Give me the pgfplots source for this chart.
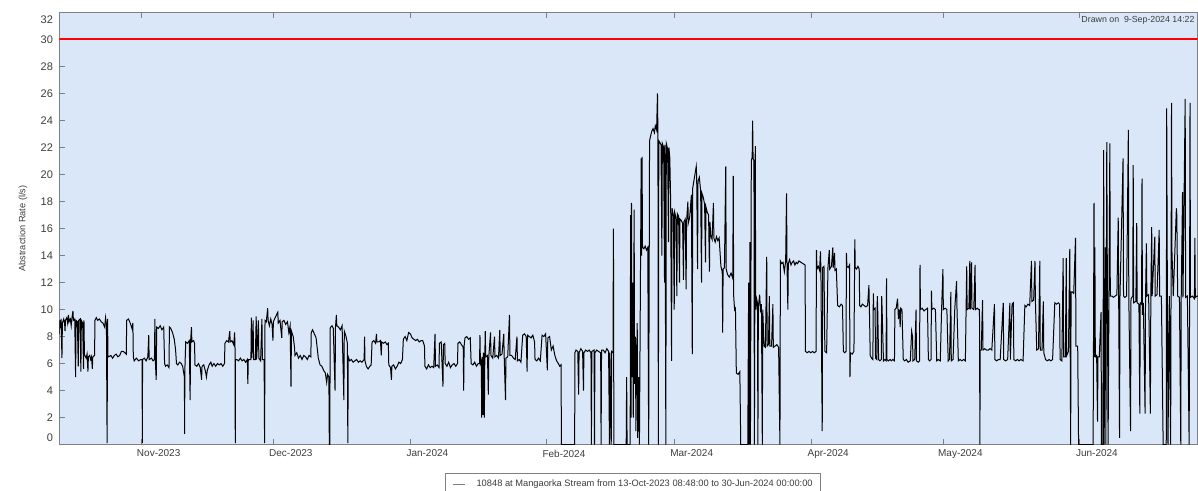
\documentclass[border=0pt]{standalone}
\usepackage{fontspec}
\setmainfont{Liberation Sans}
\usepackage{pgfplots}
\pgfplotsset{compat=1.18}
\definecolor{bgblue}{RGB}{217,231,248}
\definecolor{axgray}{RGB}{128,128,128}
\definecolor{txtgray}{RGB}{60,60,60}
\begin{document}
\begin{tikzpicture}
\path[use as bounding box] (-29.65pt,-22.75pt) rectangle (569.25pt,222.25pt);
\begin{axis}[
 at={(0,0)}, anchor=south west,
 width=569pt, height=216pt, scale only axis,
 xmin=0.3, xmax=258.7, ymin=0, ymax=32,
 axis background/.style={fill=bgblue},
 axis line style={axgray, line width=0.6pt},
 tick align=inside, major tick length=3pt,
 tick style={axgray, line width=0.5pt},
 xtick pos=both, ytick pos=left,
 xtick={19,49,80,111,140,171,201,232},
 xticklabels={Nov-2023,Dec-2023,Jan-2024,Feb-2024,Mar-2024,Apr-2024,May-2024,Jun-2024},
 xticklabel style={font=\fontsize{5}{6}\selectfont, text=txtgray, anchor=north, inner sep=0pt, xshift=8.5pt, yshift=-2.5pt},
 ytick={2,4,...,30},
 extra y ticks={0},
 extra y tick style={yticklabel style={yshift=3.4pt}},
 yticklabel style={font=\fontsize{5.5}{6.5}\selectfont, text=txtgray, anchor=east, inner sep=0pt, xshift=-3pt},
 /pgf/number format/assume math mode=true,
 ylabel={Abstraction Rate (l/s)},
 ylabel style={at={(axis description cs:-0.0319,0.5)}, anchor=center, font=\fontsize{4.6}{5.5}\selectfont, text=txtgray},
 legend style={at={(axis description cs:0.339,-0.066)}, anchor=north west, draw=axgray, fill=white, font=\fontsize{4.65}{5.5}\selectfont, text=txtgray, inner xsep=2pt, inner ysep=1pt},
 legend image code/.code={\path[draw=none] (0pt,0pt) -- (11.5pt,0pt); \draw[gray,line width=0.6pt] (1.5pt,0pt) -- (7.5pt,0pt);},
 legend cell align=left,
]
\addplot[red, line width=1pt, forget plot] coordinates {(0.3,30) (258.7,30)};
\addplot[black, line width=0.5pt] coordinates {
(0.3,8.2)(0.4,9.2)(0.6,8.8)(0.7,9.3)(0.9,6.4)(1.0,9.0)(1.3,9.3)(1.5,9.0)(1.6,8.4)(1.7,9.2)(2.0,9.4)(2.2,9.0)(2.4,9.6)(2.5,9.1)(2.8,9.3)(3.0,8.8)(3.1,9.2)(3.4,9.9)(3.5,9.2)(3.8,9.3)(4.0,5.0)(4.1,9.2)(4.4,9.1)(4.6,5.8)(4.7,9.2)(5.0,9.3)(5.2,5.4)(5.3,9.2)(5.6,9.0)(5.8,5.6)(5.9,9.2)(6.0,6.7)
(6.1,6.6)(6.4,6.4)(6.6,6.7)(6.8,5.4)(6.9,6.5)(7.2,6.6)(7.4,6.3)(7.6,6.5)(7.8,5.6)(7.9,6.5)(8.3,6.6)
(8.4,9.2)(8.7,9.4)(9.0,9.2)(9.4,9.3)(9.8,9.1)(10.2,9.0)(10.6,8.7)(10.8,9.4)(11.0,8.9)(11.15,0.1)(11.25,9.3)(11.35,6.6)
(11.5,6.5)(12,6.6)(12.4,6.4)(12.8,6.6)(13.2,6.7)(13.6,6.5)(14.0,6.6)(14.4,6.9)(14.8,6.9)(15.2,6.8)(15.5,6.7)
(15.6,9.2)(16.0,9.3)(16.4,9.0)(16.8,8.6)(17.0,9.0)(17.1,6.5)
(17.3,6.2)(17.8,6.4)(18.3,6.2)(18.8,6.3)(19.1,6.3)(19.15,0.1)(19.2,6.3)(19.6,6.4)(20.0,6.2)(20.4,6.5)(20.6,8.1)(20.7,6.3)(21.2,6.4)(21.6,6.2)(21.9,6.3)
(22.0,9.3)(22.1,6.2)(22.3,4.8)(22.4,8.7)(22.8,8.6)(23.2,8.8)(23.6,8.5)(24.0,8.7)(24.2,6.0)(24.4,5.8)(24.8,5.9)(25.2,5.7)(25.3,8.7)(25.6,8.6)(26.0,8.3)(26.4,7.8)(26.7,7.0)(26.9,6.0)(27.2,5.9)(27.6,6.1)(28.0,6.0)(28.3,5.8)
(28.7,5.0)(28.75,0.8)(28.8,5.5)(29.0,7.6)(29.4,7.5)(29.8,7.7)(30.0,3.3)(30.1,7.6)(30.3,8.7)(30.4,7.6)(30.8,7.7)(31.0,7.5)
(31.1,5.9)(31.5,5.8)(31.9,6.0)(32.3,5.7)(32.6,4.8)(32.7,5.8)(33.1,5.9)(33.5,5.4)(33.7,5.0)(33.9,5.5)(34.3,5.9)(34.7,6.1)(35.0,5.8)(35.4,6.0)(35.8,5.8)(36.2,6.0)(36.6,5.9)(37.0,6.0)(37.4,5.8)(37.8,6.0)
(37.9,7.5)(38.3,7.7)(38.7,7.6)(39.0,8.4)(39.1,7.6)(39.5,7.7)(39.9,7.4)(40.1,8.3)(40.2,7.0)(40.25,0.1)(40.3,6.3)
(40.6,6.3)(41.0,6.2)(41.4,6.4)(41.8,6.2)(42.2,6.3)(42.6,6.1)(43.0,6.3)(43.1,4.5)(43.2,6.3)
(43.8,6.3)(43.9,9.4)(44.0,6.4)(44.3,9.2)(44.4,6.3)(44.8,6.3)(45.0,9.5)(45.1,6.3)(45.5,9.2)(45.6,6.4)(46.0,6.2)(46.3,9.3)(46.4,6.3)(46.8,6.3)(46.9,0.1)(47.0,9.2)
(47.3,9.1)(47.6,10.1)(47.7,9.2)(48.0,8.8)(48.3,9.3)(48.6,8.9)(48.8,7.7)(48.9,9.1)(49.3,9.4)(49.9,9.8)(50.0,9.0)(50.4,9.2)(50.8,7.9)(50.9,9.1)(51.3,9.2)(51.7,8.9)(52.1,9.1)(52.4,8.3)(52.7,8.8)(52.9,4.3)(53.0,8.4)(53.4,8.0)(53.7,7.2)
(53.8,6.6)(54.2,6.8)(54.6,6.4)(55.0,6.6)(55.4,6.3)(55.8,6.6)(56.2,6.5)(56.6,6.3)(57.0,6.6)(57.4,6.5)
(57.5,8.3)(57.8,8.5)(58.2,8.2)(58.6,7.9)(58.9,7.0)
(59.1,6.4)(59.5,5.9)(59.9,5.8)(60.3,5.5)(60.7,5.3)(61.0,4.6)(61.2,5.2)(61.5,5.0)(61.6,0.0)(61.7,0.0)(61.8,8.6)
(61.9,8.7)(62.2,8.8)(62.5,8.6)(62.9,4.0)(63.0,8.7)(63.2,9.6)(63.3,8.8)(63.7,8.7)(64.1,8.5)(64.5,8.8)(64.9,3.3)(65.0,8.4)(65.4,8.0)(65.7,7.5)(65.8,0.1)(65.9,6.5)
(66.2,6.2)(66.6,6.3)(67.0,6.1)(67.4,6.2)(67.8,6.3)(68.2,6.1)(68.6,6.2)(69.0,6.1)(69.5,6.3)(69.6,8.0)(69.7,6.2)
(70.0,5.8)(70.4,5.6)(70.8,5.8)(71.1,5.9)
(71.3,7.6)(71.7,7.7)(72.1,7.5)(72.3,8.2)(72.4,7.6)(72.8,7.6)(73.2,7.7)(73.4,6.6)(73.5,7.6)(73.9,7.5)(74.3,7.6)(74.7,7.4)(75.0,7.5)
(75.1,5.9)(75.5,5.7)(75.7,4.8)(75.8,5.8)(76.2,5.9)(76.6,5.6)(77.0,5.8)(77.4,6.1)(77.8,6.0)(78.2,6.3)
(78.4,7.8)(78.8,8.0)(79.2,7.7)(79.6,8.3)(80.0,8.2)(80.4,7.9)(80.8,7.8)(81.2,7.7)(81.6,7.8)(82.0,7.6)(82.4,7.7)(82.8,7.7)(83.2,7.3)
(83.3,5.8)(83.7,5.6)(84.1,5.9)(84.5,5.7)(84.9,5.8)(85.3,5.7)(85.6,8.2)(85.7,5.8)(86.1,5.9)(86.5,5.7)
(86.6,7.5)(87.0,7.6)(87.4,4.3)(87.5,7.4)(87.8,7.5)
(87.9,6.0)(88.3,5.8)(88.7,6.1)(89.1,5.7)(89.5,5.9)(89.9,6.0)(90.3,5.8)(90.7,6.0)
(90.8,7.5)(91.2,7.6)(91.6,7.4)(92.0,7.2)(92.1,4.0)(92.2,7.3)
(92.4,7.9)(92.8,8.0)(93.2,7.8)(93.6,7.9)
(93.8,6.0)(94.2,5.9)(94.6,6.1)(95.0,5.8)(95.4,6.0)(95.7,6.0)
(95.8,8.1)(95.9,6.0)(96.1,6.2)(96.2,2.0)(96.3,6.5)(96.5,2.2)(96.6,6.8)(96.8,2.0)(96.9,6.6)
(97.0,8.4)(97.1,6.5)(97.5,6.6)(97.7,3.7)(97.8,6.5)(98.2,8.3)(98.3,6.6)(98.7,6.4)(99.1,8.0)(99.2,6.5)(99.6,6.6)(100.0,6.4)(100.3,8.5)(100.4,6.6)(100.8,6.7)(101.2,8.2)(101.3,6.5)(101.6,3.3)(101.7,6.4)
(102.1,6.5)(102.5,9.6)(102.6,6.6)
(103.0,6.6)(103.4,6.4)(103.8,6.3)(104.2,8.0)(104.3,6.2)(104.7,6.3)(105.1,6.1)
(105.5,8.1)(105.9,8.2)(106.3,8.0)(106.5,5.4)(106.6,8.1)(107.0,8.0)(107.4,7.9)(107.8,8.1)(108.2,7.6)
(108.3,6.3)(108.7,6.2)(109.1,6.4)(109.5,6.2)
(109.9,8.1)(110.3,8.0)(110.7,8.2)(111.1,5.5)(111.2,7.9)(111.6,8.0)
(112.0,7.0)(112.4,7.3)(112.8,6.6)(113.2,6.2)(113.6,6.0)(113.9,5.8)
(114.2,5.9)(114.3,0)(117.2,0)
(117.3,0)(117.35,6.8)(117.6,7.0)(118.0,6.9)(118.2,3.7)(118.3,6.8)(118.7,7.1)(119.1,6.9)(119.3,4.0)(119.4,6.8)(119.8,7.0)(120.2,6.9)(120.6,7.0)(121.0,6.8)(121.1,0)(121.2,6.9)(121.7,7.0)(121.8,0)(121.9,6.8)(122.3,7.0)(122.7,6.9)(123.2,6.8)(123.3,0)(123.4,7.0)(123.8,7.0)(124.2,6.8)(124.6,7.1)(125.0,6.9)(125.2,0)(125.3,6.8)(125.6,0)(125.7,6.9)(126.0,6.8)
(126.1,16.0)(126.2,0)(129.0,0)(129.1,5.0)(129.2,0)
(129.9,0)(130.0,17.0)(130.1,2.0)(130.2,17.9)(130.3,5.0)(130.5,12.0)(130.6,2.0)(130.8,17.4)(130.9,4.5)(131.1,8.0)(131.2,1.0)(131.3,4.6)(131.5,9.0)(131.6,0.5)(131.8,5.0)
(132.0,0)(132.4,21.2)(132.5,14.0)(132.6,21.3)(132.7,14.6)
(133.0,14.5)(133.3,14.7)(133.6,14.4)(133.9,14.6)(134.1,0)(134.3,22.5)
(134.5,22.8)(134.8,23.2)(135.1,23.4)(135.4,23.1)(135.6,23.6)(135.9,23.3)(136.1,26.0)(136.2,23.0)(136.3,0)(136.4,22.5)
(136.6,22.4)(136.9,22.2)(137.1,14.0)(137.2,22.3)(137.5,22.0)(137.7,12.0)(137.8,22.2)(138.0,0)(138.1,22.3)(138.4,21.9)(138.6,15.0)(138.7,22.0)(138.9,21.2)
(139.1,17.8)(139.3,6.2)(139.4,17.5)(139.7,17.0)(139.9,10.0)(140.0,17.2)(140.3,16.8)(140.5,11.0)(140.6,17.1)(140.9,16.9)(141.1,12.0)(141.2,16.7)
(141.5,16.6)(141.8,16.4)(142.0,12.2)(142.1,16.5)(142.4,16.7)(142.6,11.5)(142.7,16.5)(143.0,18.0)(143.1,16.4)(143.4,16.8)
(143.8,18.5)(144.0,6.7)(144.1,19.0)(144.4,19.6)(144.7,20.2)(144.9,20.6)(145.0,19.8)(145.2,13.0)(145.3,19.5)(145.6,19.8)
(145.9,18.8)(146.1,12.0)(146.2,18.6)(146.5,18.3)(146.8,17.8)(147.0,13.5)(147.1,17.6)(147.4,17.2)(147.7,17.0)(147.9,12.8)(148.0,16.5)
(148.2,15.5)(148.5,15.2)(148.8,17.9)(148.9,15.3)(149.2,15.0)(149.5,15.4)(149.8,15.1)(150.1,15.3)
(150.5,13.2)(150.8,12.8)(150.9,8.3)(151.0,13.0)(151.3,13.1)(151.6,20.6)(151.7,13.0)
(152.0,12.6)(152.4,12.4)(152.8,12.7)(153.2,12.3)(153.3,19.9)(153.4,11.0)(153.6,10.0)(153.8,10.1)
(154.0,5.3)(154.4,5.2)(154.8,5.4)(155.0,0)(156.6,0)
(156.8,12.0)(156.9,0)(157.1,15.0)(157.2,0)(157.4,21.0)(157.6,21.3)(157.7,24.0)(157.8,21.2)(158.0,21.0)(158.1,0)(158.3,22.1)(158.4,10.0)
(158.6,10.8)(158.8,10.5)(158.9,0)(159.0,10.2)(159.3,11.1)(159.5,9.8)(159.7,10.4)(159.9,0)(160.0,10.0)
(160.3,7.3)(160.6,7.2)(160.9,13.9)(161.0,7.3)(161.3,7.4)(161.5,11.0)(161.6,7.3)
(162.0,7.3)(162.3,10.4)(162.4,7.2)(162.8,7.3)(163.2,7.4)(163.6,7.2)(163.9,0)(164.0,13.6)
(164.3,13.4)(164.6,13.5)(164.9,12.8)(165.2,13.6)(165.4,18.6)(165.5,13.5)(165.7,10.0)(165.8,13.4)(166.1,13.7)(166.4,13.3)(166.7,13.5)(167.0,13.6)(167.3,13.3)(167.6,13.5)(167.9,13.4)(168.2,13.6)
(169.6,13.3)(169.7,6.9)(170.1,6.8)(170.5,6.9)(170.9,6.8)(171.3,6.9)(171.7,6.8)(172.1,6.9)
(172.2,14.4)(172.3,13.0)(172.6,13.2)(172.9,12.9)(173.1,14.3)(173.2,13.0)(173.5,1.0)(173.6,13.1)(173.9,13.2)(174.1,6.9)(174.5,6.8)
(174.8,13.1)(175.1,14.4)(175.2,13.0)(175.6,13.2)(175.9,14.6)(176.0,13.1)(176.3,14.2)(176.4,12.9)(176.7,13.0)
(177.0,10.3)(177.4,10.2)(177.8,10.4)(178.1,10.3)(178.3,6.9)(178.6,6.8)(178.9,6.9)
(179.0,14.2)(179.1,13.2)(179.4,13.1)(179.7,13.3)(179.8,5.0)(179.9,6.8)(180.3,6.7)(180.7,6.9)(180.9,15.2)(181.0,13.1)(181.3,13.0)(181.6,13.2)(181.9,13.0)
(182.0,10.3)(182.3,10.2)(182.6,10.4)(183.0,10.3)(183.4,10.2)(183.8,10.3)(184.1,11.8)(184.2,10.2)
(184.4,6.6)(184.7,6.4)(185.0,6.3)(185.1,11.2)(185.2,10.0)(185.5,10.1)(185.6,6.4)(185.9,6.3)(186.0,11.0)(186.1,10.0)(186.3,6.3)(186.6,6.2)(186.9,6.3)(187.0,11.0)(187.1,10.0)(187.4,6.2)(187.7,6.3)(188.0,6.2)(188.1,12.3)(188.2,6.3)(188.5,6.2)(188.9,6.3)(189.2,6.2)(189.5,6.3)(189.9,6.2)
(190.0,10.0)(190.3,10.1)(190.6,10.8)(190.8,9.3)(191.0,10.0)(191.2,8.7)(191.3,10.1)(191.6,10.0)(191.9,6.3)
(192.2,6.2)(192.6,6.3)(193.0,6.1)(193.5,6.2)(193.8,8.4)(194.0,8.0)(194.1,6.2)(194.5,6.3)(194.8,10.0)(194.9,6.2)(195.3,6.1)
(195.6,6.2)(195.7,13.3)(195.8,10.0)(196.2,10.1)(196.6,9.9)(197.0,10.0)(197.4,10.1)(197.6,6.3)(197.9,6.2)(198.2,6.3)
(198.3,11.4)(198.4,10.0)(198.8,10.1)(199.2,10.0)(199.5,6.2)(199.8,6.3)(200.3,6.2)
(200.6,10.0)(200.9,13.0)(201.0,10.0)(201.4,10.1)(201.8,10.0)(202.1,6.2)(202.4,6.3)(202.7,11.3)(202.8,6.2)(203.2,6.3)
(203.6,10.1)(204.0,12.1)(204.1,10.0)(204.4,6.2)(204.8,6.3)(205.2,6.2)(205.6,6.3)(206.0,6.2)
(206.3,13.2)(206.4,10.0)(206.8,10.1)(207.0,13.6)(207.1,10.0)(207.4,13.5)(207.5,10.1)(207.9,10.0)(208.2,13.3)(208.3,10.0)(208.7,10.1)(209.0,10.0)
(209.2,10.0)(209.3,0)(209.35,7.0)(209.6,7.0)(209.9,10.7)(210.0,7.0)(210.4,7.1)(210.8,7.0)(211.2,7.0)(211.6,7.1)(212.0,7.0)
(212.6,10.4)(212.7,6.3)(213.1,6.2)(213.5,6.3)
(213.9,6.3)(214.6,10.5)(214.7,6.3)(215.1,6.2)(215.6,6.3)(216.1,10.5)(216.2,6.3)(216.6,10.4)(216.9,10.5)(217.0,6.3)(217.4,6.2)(217.8,6.3)(218.2,6.2)(218.6,6.3)(219.1,6.2)(219.5,10.3)(219.8,10.2)(220.2,10.4)(220.6,10.3)
(221.0,13.6)(221.1,10.6)(221.5,10.7)(221.8,13.6)(221.9,10.6)
(222.2,7.0)(222.6,7.1)(222.9,13.6)(223.0,7.0)(223.4,7.0)(223.7,10.6)(223.8,6.8)
(224.2,6.3)(224.6,6.2)(225.0,6.3)(225.4,6.2)(225.8,6.3)
(226.3,10.5)(226.7,10.4)(227.1,10.5)(227.4,10.4)(227.5,6.3)(227.9,6.2)
(228.2,13.8)(228.3,6.5)(228.7,6.5)(228.9,13.8)(229.0,6.6)(229.4,6.9)
(229.7,14.5)(229.8,7.0)(229.9,0)(230.0,11.3)(230.3,11.3)(230.6,11.2)(231.0,15.3)(231.1,7.3)
(231.5,7.3)(231.7,0)(235.0,0)
(235.2,17.9)(235.3,6.5)(235.4,14.6)(235.5,6.5)(235.8,6.6)(236.0,1.7)(236.1,6.5)(236.4,6.5)(236.8,9.8)(236.9,0)
(237.2,0)(237.4,21.8)(237.5,0)(237.8,14.6)(237.9,0)(238.1,22.4)(238.2,14.6)(238.4,0)(238.8,22.3)(238.9,11.0)
(239.3,11.0)(239.6,10.9)(240.0,11.0)(240.4,11.1)(240.7,16.8)(240.8,11.0)(241.0,0.5)(241.1,11.0)(241.8,21.2)(241.9,11.0)(242.2,10.9)(242.6,11.0)(243.0,23.3)(243.1,11.0)(243.5,1.0)(243.6,10.8)(244.0,11.0)
(244.1,20.7)(244.2,10.5)(244.7,10.6)(244.9,16.4)(245.0,10.5)(245.4,10.4)(245.6,2.3)(245.7,10.5)(246.0,10.4)(246.1,19.7)(246.2,9.6)(246.4,10.5)
(246.8,2.3)(246.9,11.0)(247.1,14.9)(247.2,11.0)(247.6,11.1)(248.0,2.3)(248.1,11.0)(248.3,16.1)(248.4,11.0)(249.0,15.4)(249.1,11.0)(249.5,11.1)(250.0,15.9)(250.1,11.0)(250.5,11.0)(250.9,0)
(251.6,0)(251.7,24.9)(251.8,15.9)(252.0,0)(252.3,11.0)(252.6,0)(252.8,25.3)(252.9,14.3)(253.2,11.0)
(253.9,17.5)(254.0,17.0)(254.2,11.0)
(254.6,10.9)(254.9,0)(255.0,10.9)(255.3,18.7)(255.4,10.9)(255.9,25.6)(256.0,10.9)(256.4,11.0)(256.8,0)(256.9,10.9)(257.0,25.3)(257.1,10.9)(257.5,11.0)(258.0,10.8)(258.1,15.3)(258.2,10.9)(258.6,11.0)(259.0,10.9)
};
\addlegendentry{10848 at Mangaorka Stream from 13-Oct-2023 08:48:00 to 30-Jun-2024 00:00:00}
\end{axis}
\node[anchor=east, inner sep=0pt, font=\fontsize{5.5}{6.5}\selectfont, text=txtgray] at ([xshift=-3pt,yshift=-3.4pt]current axis.north west) {32};
\node[anchor=north west, inner sep=0pt, font=\fontsize{4.4}{5.3}\selectfont, text=txtgray] at ([xshift=510.8pt,yshift=-1.75pt]current axis.north west) {Drawn on\ \ 9-Sep-2024 14:22};
\end{tikzpicture}
\end{document}
